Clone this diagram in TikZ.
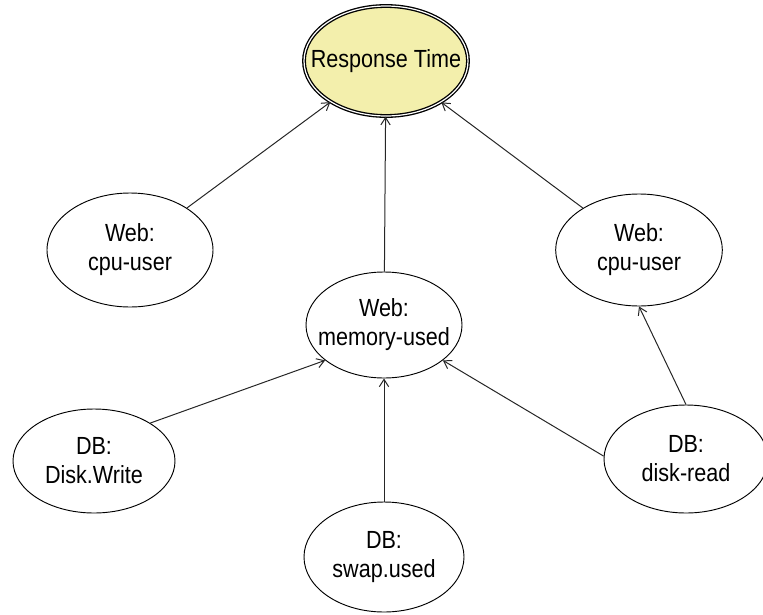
\documentclass[tikz,border=0pt]{standalone}
\usepackage{fontspec}
\setmainfont{Liberation Sans}[FakeStretch=0.87]
\usetikzlibrary{shapes.geometric,arrows.meta}
\definecolor{rtfill}{RGB}{243,239,172}
\newcommand{\twol}[2]{\makebox[0pt]{#1}\\\makebox[0pt]{#2}}
\begin{document}
\begin{tikzpicture}[x=0.75pt,y=-0.75pt,
  ell/.style={ellipse, draw=black, line width=0.7pt, inner sep=0pt, align=center,
    font=\fontsize{18.6}{21.75}\selectfont},
  rtell/.style={ell, fill=rtfill, double=white, double distance=0.9pt, line width=1.0pt},
  conn/.style={draw=black!85, line width=0.75pt, -{Straight Barb[length=5.5pt,width=7pt]}}]
\useasboundingbox (0,0) rectangle (763,614);
\node[rtell, minimum width=123pt, minimum height=82.5pt] (rt) at (386,61) {\makebox[0pt]{Response Time}};
\node[ell, minimum width=124.5pt, minimum height=85.5pt] (lcpu) at (130,250) {\twol{Web:}{cpu-user}};
\node[ell, minimum width=125pt, minimum height=84pt] (rcpu) at (639,250) {\twol{Web:}{cpu-user}};
\node[ell, minimum width=117pt, minimum height=79.5pt] (mem) at (384,325) {\twol{Web:}{memory-used}};
\node[ell, minimum width=121.5pt, minimum height=78pt] (dw) at (94,461) {\twol{DB:}{Disk.Write}};
\node[ell, minimum width=120pt, minimum height=82.5pt] (sw) at (384,557) {\twol{DB:}{swap.used}};
\node[ell, minimum width=123pt, minimum height=81pt] (dr) at (686,459) {\twol{DB:}{disk-read}};
\draw[conn] (lcpu) -- (rt);
\draw[conn] (rcpu) -- (rt);
\draw[conn] (mem) -- (rt);
\draw[conn] (sw) -- (mem);
\draw[conn] (dw.34) -- (mem.211);
\draw[conn] (dr.178) -- (mem.329);
\draw[conn] (dr.north) -- (rcpu.south);
\end{tikzpicture}
\end{document}
